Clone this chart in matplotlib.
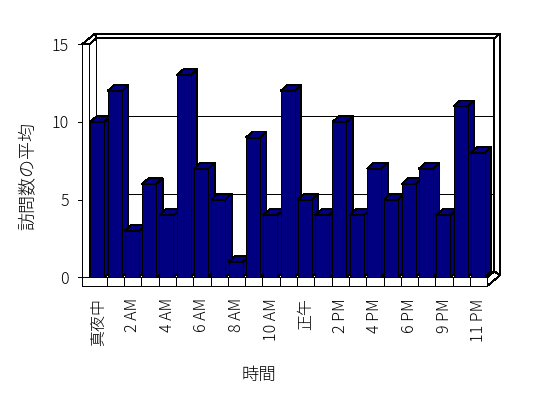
import matplotlib
matplotlib.use('Agg')
import matplotlib.pyplot as plt
from matplotlib.patches import Polygon

plt.rcParams['font.family'] = ['Noto Sans CJK JP', 'DejaVu Sans']
plt.rcParams['font.weight'] = 'light'

# data: average visits per hour (8 PM is missing in the source)
hours = ['真夜中', '1 AM', '2 AM', '3 AM', '4 AM', '5 AM', '6 AM', '7 AM',
         '8 AM', '9 AM', '10 AM', '11 AM', '正午', '1 PM', '2 PM', '3 PM',
         '4 PM', '5 PM', '6 PM', '7 PM', '9 PM', '10 PM', '11 PM']
visits = [10, 12, 3, 6, 4, 13, 7, 5, 1, 9, 4, 12, 5, 4, 10, 4, 7, 5, 6, 7, 4, 11, 8]
yticks = [0, 5, 10, 15]
grid_vals = [5, 10]

# layout in pixels (figure 548x398)
W, H = 548, 398
x0, x1, y0 = 89.4, 487.3, 277.3
pxv = 15.53
ymax = 15
n = len(visits)

fig = plt.figure(figsize=(W / 100, H / 100), dpi=100)
ax = fig.add_axes([x0 / W, (H - y0) / H, (x1 - x0) / W, ymax * pxv / H])
ax.set_xlim(0, n)
ax.set_ylim(0, ymax)
pxc = (x1 - x0) / n

D = (7.0, -6.0)      # box depth
T = (5.7, -4.7)      # back wall thickness
DT = (D[0] + T[0], D[1] + T[1])
wall = 7.4           # left wall front width
floor_h = 8.7        # floor thickness
BD = (6.5, -6.0)     # bar depth
navy = '#000080'
lw = 0.65


def P(x, y, dx=0.0, dy=0.0):
    # data point shifted by screen pixels (dy positive = down)
    return (x + dx / pxc, y - dy / pxv)


def poly(pts, fc='white', z=1):
    ax.add_patch(Polygon(pts, closed=True, facecolor=fc, edgecolor='black',
                         lw=lw, clip_on=False, zorder=z, antialiased=False))


def line(pts, z=2):
    xs, ys = zip(*pts)
    ax.plot(xs, ys, color='black', lw=lw, clip_on=False, zorder=z,
            antialiased=False, solid_capstyle='butt')


# back wall
poly([P(0, 0, *D), P(n, 0, *D), P(n, ymax, *D), P(0, ymax, *D)], z=1)
poly([P(0, ymax, *D), P(n, ymax, *D), P(n, ymax, *DT), P(0, ymax, DT[0] - wall, DT[1])], z=1)
poly([P(n, ymax, *D), P(n, ymax, *DT), P(n, 0, DT[0], DT[1] + floor_h), P(n, 0, *D)], z=1)
for v in grid_vals:
    line([P(0, v, *D), P(n, v, *D)], z=1.5)

# floor
poly([P(n, 0), P(n, 0, 0, floor_h), P(n, 0, DT[0], DT[1] + floor_h), P(n, 0, *D)], z=2)
poly([P(0, 0, -wall, 0), P(n, 0), P(n, 0, 0, floor_h), P(0, 0, -wall, floor_h)], z=2)
for k in range(1, n + 1):
    line([P(k, 0), P(k, 0, 0, floor_h)], z=2.1)

# left wall
poly([P(0, ymax, -wall, 0), P(0, ymax), P(0, 0), P(0, 0, -wall, 0)], z=3)
poly([P(0, ymax, -wall, 0), P(0, ymax), P(0, ymax, *D), P(0, ymax, DT[0] - wall, DT[1])], z=3)
line([P(0, ymax, *D), P(0, 0, *D)], z=1.6)
for v in yticks:
    line([P(0, v, -wall - 4, 0), P(0, v, -wall, 0)], z=3)

# bars, left to right so each covers the side of the previous one
for i, v in enumerate(visits):
    bl, br = i + 0.05, i + 0.86
    z = 10 + i * 0.1
    poly([P(br, 0), P(br, 0, *BD), P(br, v, *BD), P(br, v)], fc=navy, z=z)
    poly([P(bl, v), P(br, v), P(br, v, *BD), P(bl, v, *BD)], fc=navy, z=z)
    poly([P(bl, 0), P(br, 0), P(br, v), P(bl, v)], fc=navy, z=z)

# axes text
ax.set_xticks([i + 0.5 for i in range(0, n, 2)])
ax.set_xticklabels(hours[::2], rotation=90, va='top', ha='center', fontsize=11.5)
ax.set_yticks(yticks)
ax.set_yticklabels([str(t) for t in yticks], fontsize=11.5)
ax.tick_params(axis='x', length=0, pad=15)
ax.tick_params(axis='y', length=0, pad=15)
for s in ax.spines.values():
    s.set_visible(False)
ax.patch.set_visible(False)

fig.text(28 / W, 1 - 176 / H, '訪問数の平均', rotation=90, ha='center', va='center', fontsize=13)
fig.text(258.5 / W, 1 - 375 / H, '時間', ha='center', va='center', fontsize=12.5)

fig.savefig('out.png', dpi=100)
